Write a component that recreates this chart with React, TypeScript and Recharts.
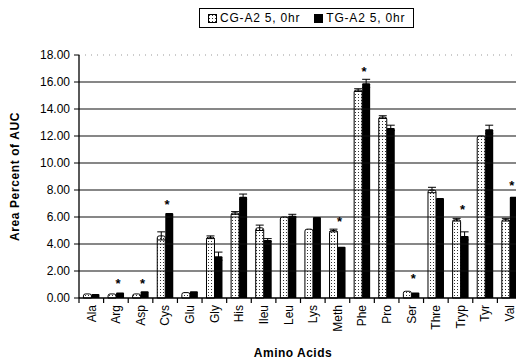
import {
  Bar,
  ComposedChart,
  ErrorBar,
  Legend,
  ReferenceLine,
  Scatter,
  XAxis,
  YAxis,
} from "recharts";

const acids = [
  "Ala", "Arg", "Asp", "Cys", "Glu", "Gly", "His", "Ileu", "Leu",
  "Lys", "Meth", "Phe", "Pro", "Ser", "Thre", "Tryp", "Tyr", "Val",
];
const cgValues = [0.3, 0.3, 0.3, 4.6, 0.4, 4.5, 6.3, 5.2, 6.0, 5.1, 5.0, 15.4, 13.4, 0.5, 8.0, 5.8, 12.0, 5.8];
const tgValues = [0.3, 0.4, 0.5, 6.3, 0.5, 3.1, 7.5, 4.3, 6.1, 6.0, 3.8, 15.9, 12.6, 0.4, 7.4, 4.6, 12.5, 7.5];
const cgErr = [0, 0, 0, 0.3, 0, 0.1, 0.1, 0.2, 0, 0, 0.1, 0.1, 0.1, 0, 0.2, 0.1, 0, 0.1];
const tgErr = [0, 0, 0, 0, 0, 0.3, 0.2, 0.1, 0.1, 0, 0, 0.3, 0.2, 0, 0, 0.3, 0.3, 0];
// where the significance stars sit
const starLevels = [null, 1.1, 1.1, 7.0, null, null, null, null, null, null, 5.7, 16.8, null, 1.5, null, 6.6, null, 8.4];
const yTicks = [0, 2, 4, 6, 8, 10, 12, 14, 16, 18];
const gridLevels = [2, 4, 6, 8, 10, 12, 14, 16];

const CHART_W = 524;
const CHART_H = 364;
const AXIS_W = 79;
const RIGHT = 2;
const BAND = (CHART_W - AXIS_W - RIGHT) / acids.length;
const FONT = "'Liberation Sans', Arial, sans-serif";

const data = acids.map((name, i) => ({
  name,
  cg: cgValues[i],
  tg: tgValues[i],
  cgErr: cgErr[i],
  tgErr: tgErr[i],
  star: starLevels[i],
}));

function AcidTick({ x, y, payload }: any) {
  const left = x - BAND / 2;
  return (
    <g>
      <line x1={left} x2={left} y1={y} y2={y + 5} stroke="#000" strokeWidth={1.2} />
      <text
        x={x}
        y={y + 7}
        transform={`rotate(-90 ${x} ${y + 7})`}
        textAnchor="end"
        dy="0.36em"
        fontSize={12}
        fontFamily={FONT}
        fill="#000"
      >
        {payload.value}
      </text>
    </g>
  );
}

function Star({ cx, cy }: any) {
  if (cx == null || cy == null) return null;
  return (
    <text x={cx + 2} y={cy + 5} textAnchor="middle" fontSize={13} fontWeight="bold" fontFamily={FONT} fill="#000">
      *
    </text>
  );
}

function LegendBox() {
  return (
    <div
      style={{
        border: "1px solid #000",
        padding: "2px 8px",
        display: "flex",
        gap: 14,
        fontFamily: FONT,
        fontSize: 12,
        letterSpacing: 0.8,
        color: "#000",
        whiteSpace: "nowrap",
        alignItems: "center",
      }}
    >
      <span style={{ display: "flex", alignItems: "center", gap: 3 }}>
        <svg width={9} height={9}>
          <rect x={0.5} y={0.5} width={8} height={8} fill="url(#cgDots)" stroke="#000" />
        </svg>
        CG-A2 5, 0hr
      </span>
      <span style={{ display: "flex", alignItems: "center", gap: 3 }}>
        <svg width={9} height={9}>
          <rect x={0} y={0} width={9} height={9} fill="#000" />
        </svg>
        TG-A2 5, 0hr
      </span>
    </div>
  );
}

export default function App() {
  return (
    <div
      style={{
        position: "absolute",
        left: 0,
        top: 0,
        width: 516,
        height: CHART_H,
        overflow: "hidden",
        background: "#fff",
      }}
    >
      <svg width={0} height={0} style={{ position: "absolute" }}>
        <defs>
          <pattern id="cgDots" width={3} height={3} patternUnits="userSpaceOnUse">
            <rect width={3} height={3} fill="#fff" />
            <rect x={1} y={1} width={1} height={1} fill="#333" />
          </pattern>
        </defs>
      </svg>
      <ComposedChart
        width={CHART_W}
        height={CHART_H}
        data={data}
        margin={{ top: 55, right: RIGHT, bottom: 0, left: 0 }}
        barCategoryGap="18%"
        barGap={0}
      >
        {gridLevels.map((v) => (
          <ReferenceLine key={v} y={v} stroke="#111" strokeWidth={1.2} />
        ))}
        <ReferenceLine y={18} stroke="#999" strokeDasharray="1 5" />
        <XAxis
          dataKey="name"
          height={66}
          tickLine={false}
          tickSize={0}
          tickMargin={0}
          interval={0}
          axisLine={{ stroke: "#000", strokeWidth: 1.3 }}
          tick={<AcidTick />}
          label={({ viewBox }: any) => (
            <text
              x={293}
              y={viewBox.y + 59}
              textAnchor="middle"
              fontSize={12}
              fontWeight="bold"
              fontFamily={FONT}
              letterSpacing={0.5}
              fill="#000"
            >
              Amino Acids
            </text>
          )}
        />
        <YAxis
          width={AXIS_W}
          domain={[0, 18]}
          ticks={yTicks}
          interval={0}
          tickSize={5}
          tickMargin={4}
          tickFormatter={(v: number) => v.toFixed(2)}
          tick={{ fontSize: 12, fontFamily: FONT, fill: "#000" }}
          axisLine={{ stroke: "#000", strokeWidth: 1.3 }}
          tickLine={{ stroke: "#000" }}
          label={({ viewBox }: any) => {
            const cy = viewBox.y + viewBox.height / 2;
            return (
              <text
                x={15}
                y={cy}
                transform={`rotate(-90 15 ${cy})`}
                textAnchor="middle"
                dy="0.35em"
                fontSize={12}
                fontWeight="bold"
                fontFamily={FONT}
                letterSpacing={0.6}
                fill="#000"
              >
                Area Percent of AUC
              </text>
            );
          }}
        />
        <Legend
          layout="horizontal"
          align="center"
          verticalAlign="middle"
          wrapperStyle={{ top: 8, left: 199, width: "auto" }}
          content={() => <LegendBox />}
        />
        <Bar
          dataKey="cg"
          name="CG-A2 5, 0hr"
          fill="url(#cgDots)"
          stroke="#000"
          strokeWidth={1}
          radius={[2, 2, 0, 0]}
          isAnimationActive={false}
        >
          <ErrorBar dataKey="cgErr" width={4} stroke="#000" strokeWidth={1} />
        </Bar>
        <Bar
          dataKey="tg"
          name="TG-A2 5, 0hr"
          fill="#000"
          radius={[1, 1, 0, 0]}
          isAnimationActive={false}
        >
          <ErrorBar dataKey="tgErr" width={4} stroke="#000" strokeWidth={1} />
        </Bar>
        <Scatter dataKey="star" shape={<Star />} isAnimationActive={false} legendType="none" />
      </ComposedChart>
    </div>
  );
}
